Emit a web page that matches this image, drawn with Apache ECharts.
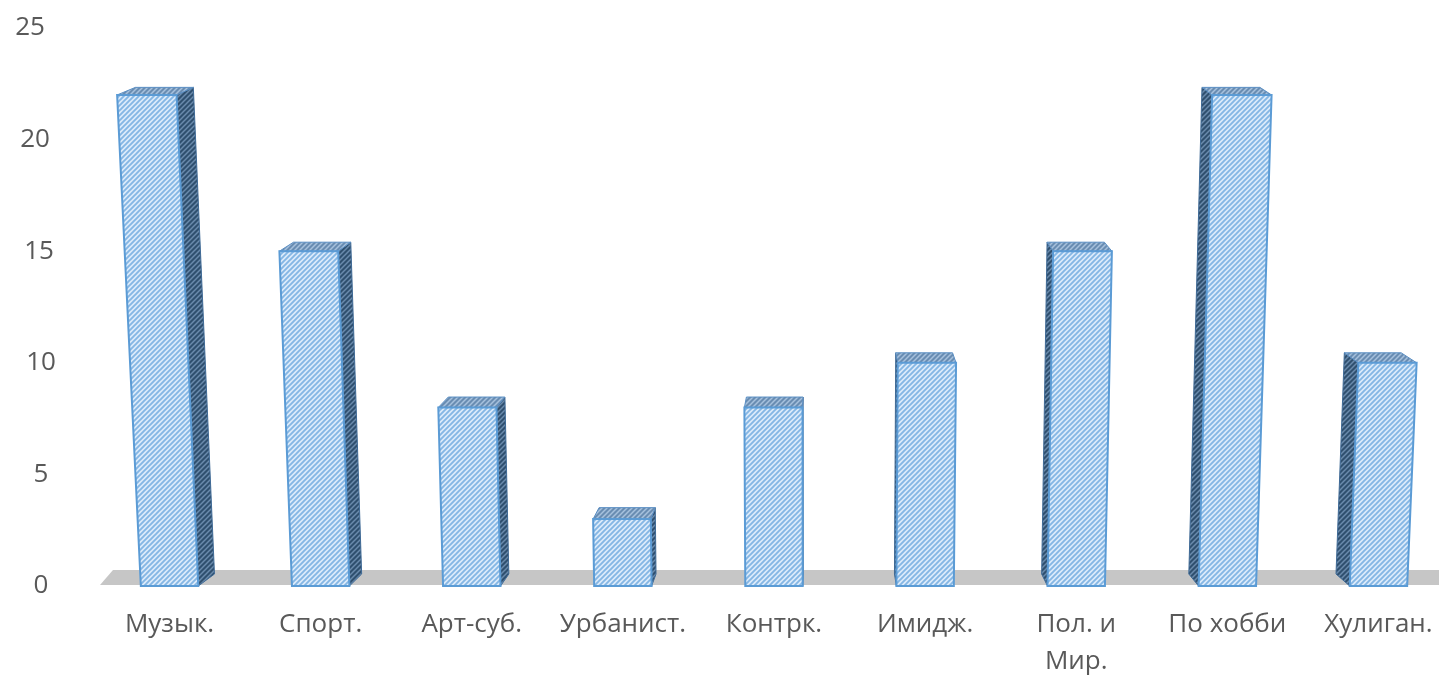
<!DOCTYPE html>
<html>
<head>
<meta charset="utf-8">
<script src="https://cdn.jsdelivr.net/npm/echarts@6/dist/echarts.min.js"></script>
<style>
  html, body { margin: 0; padding: 0; background: #fff; }
  #chart { width: 1439px; height: 677px; }
</style>
</head>
<body>
<div id="chart"></div>
<script>
const categories = ['Музык.', 'Спорт.', 'Арт-суб.', 'Урбанист.', 'Контрк.', 'Имидж.', 'Пол. и Мир.', 'По хобби', 'Хулиган.'];
const values = [22, 15, 8, 3, 8, 10, 15, 22, 10];
const yMin = 0, yMax = 25, yStep = 5;

// striped fill like the excel pattern fill
function stripes(base, line, size, width) {
  const c = document.createElement('canvas');
  c.width = size; c.height = size;
  const g = c.getContext('2d');
  g.fillStyle = base;
  g.fillRect(0, 0, size, size);
  g.strokeStyle = line;
  g.lineWidth = width;
  g.beginPath();
  g.moveTo(-1, 1); g.lineTo(1, -1);
  g.moveTo(0, size); g.lineTo(size, 0);
  g.moveTo(size - 1, size + 1); g.lineTo(size + 1, size - 1);
  g.stroke();
  return { image: c, repeat: 'repeat' };
}

const frontFill = stripes('#dcebfa', '#84b6e4', 5, 1.9);
const sideFill = stripes('#30506f', '#6a8bad', 5, 1.5);
const topFill = stripes('#6a8db2', '#a6c1dd', 5, 1.5);

const chart = echarts.init(document.getElementById('chart'));

function renderBar(params, api) {
  const cs = params.coordSys;
  const idx = api.value(0);
  const base = api.coord([idx, 0]);
  const top = api.coord([idx, api.value(1)]);
  const floorY = base[1];
  const hw = api.size([1, 0])[0] * 0.19;
  const vx = cs.x + cs.width * 0.53;   // lean origin
  const dvx = cs.x + cs.width * 0.535; // depth origin
  const lean = 0.04 / cs.height;
  const proj = (x, y) => [vx + (x - vx) * (1 + (floorY - y) * lean), y];
  const back = p => [p[0] + (dvx - p[0]) * 0.026, p[1] - 12 + 5 * (floorY - p[1]) / cs.height];

  const bl = proj(base[0] - hw, floorY);
  const br = proj(base[0] + hw, floorY);
  const tl = proj(base[0] - hw, top[1]);
  const tr = proj(base[0] + hw, top[1]);

  const side = base[0] < dvx ? [br, tr, back(tr), back(br)] : [bl, tl, back(tl), back(bl)];
  const lid = [tl, tr, back(tr), back(tl)];

  return {
    type: 'group',
    children: [
      { type: 'polygon', shape: { points: side }, style: { fill: sideFill, stroke: '#3f6a96', lineWidth: 1 } },
      { type: 'polygon', shape: { points: lid }, style: { fill: topFill, stroke: '#5b8fc4', lineWidth: 1 } },
      { type: 'polygon', shape: { points: [bl, br, tr, tl] }, style: { fill: frontFill, stroke: '#5b9bd5', lineWidth: 2 } }
    ]
  };
}

function renderFloor(params, api) {
  const cs = params.coordSys;
  const y0 = api.coord([0, 0])[1];
  return {
    type: 'polygon',
    shape: { points: [[cs.x + 6, y0 - 1], [cs.x + 19, y0 - 16], [cs.x + cs.width, y0 - 16], [cs.x + cs.width, y0 - 1]] },
    style: { fill: '#c6c6c6' },
    silent: true
  };
}

chart.setOption({
  backgroundColor: '#ffffff',
  animation: false,
  grid: { left: 94, width: 1360, top: 28, height: 558, outerBoundsMode: 'none', containLabel: false },
  xAxis: {
    type: 'category',
    data: categories,
    axisLine: { show: false },
    axisTick: { show: false },
    axisLabel: {
      interval: 0,
      margin: 20,
      color: '#595959',
      fontFamily: 'Open Sans',
      fontSize: 26,
      lineHeight: 37,
      formatter: v => v.replace('и ', 'и\n')
    }
  },
  yAxis: {
    type: 'value',
    min: yMin,
    max: yMax,
    interval: yStep,
    axisLine: { show: false },
    axisTick: { show: false },
    splitLine: { show: false },
    axisLabel: {
      margin: 53,
      align: 'center',
      color: '#595959',
      fontFamily: 'Open Sans',
      fontSize: 26,
      // upper labels lean left with the perspective
      formatter: v => '{t' + v + '|' + v + '}',
      rich: {
        t0: {}, t5: {}, t10: {},
        t15: { padding: [0, 4, 0, 0] },
        t20: { padding: [0, 12, 0, 0] },
        t25: { padding: [0, 22, 0, 0] }
      }
    }
  },
  series: [
    {
      type: 'custom',
      renderItem: renderFloor,
      data: [[0, 0]],
      z: 1
    },
    {
      type: 'custom',
      renderItem: renderBar,
      encode: { x: 0, y: 1 },
      data: values.map((v, i) => [i, v]),
      z: 2
    }
  ]
});
</script>
</body>
</html>
